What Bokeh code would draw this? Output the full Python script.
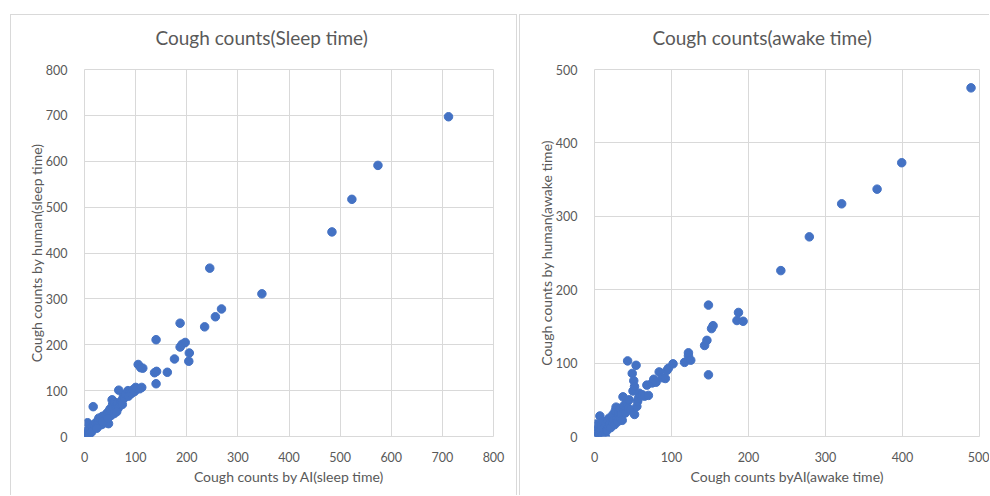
from bokeh.plotting import figure
from bokeh.layouts import row
from bokeh.models import ColumnDataSource, FixedTicker, Range1d, Title
from bokeh.embed import file_html
from bokeh.resources import INLINE

# ---- data ----
sleep_ai = [0, 1, 2, 3, 4, 5, 6, 0, 2, 7, 8, 10, 6, 12, 15, 17, 18, 20, 22, 25,
            27, 28, 30, 32, 34, 35, 38, 40, 42, 44, 45, 47, 48, 50, 52, 54, 55, 56, 58, 60,
            62, 64, 66, 67, 70, 72, 74, 76, 78, 80, 83, 85, 86, 88, 90, 92, 95, 98, 100, 103,
            105, 108, 110, 112, 114, 137, 140, 141, 140, 162, 176, 187, 187, 191, 197, 204, 205, 235, 245, 256,
            268, 347, 484, 523, 574, 712, 3, 9, 14, 24, 36, 46, 58, 63]
sleep_human = [0, 2, 0, 5, 1, 3, 8, 4, 10, 2, 12, 6, 30, 18, 20, 65, 25, 22, 30, 28,
               35, 40, 25, 38, 26, 44, 42, 30, 48, 36, 52, 28, 55, 60, 46, 80, 70, 64, 75, 58,
               66, 72, 62, 101, 74, 78, 70, 88, 84, 92, 95, 100, 88, 96, 98, 94, 102, 98, 107, 105,
               157, 104, 150, 107, 149, 139, 211, 142, 115, 140, 169, 195, 247, 201, 205, 164, 182, 239, 367, 261,
               278, 311, 446, 517, 591, 697, 12, 4, 10, 18, 32, 40, 50, 54]

awake_ai = [0, 1, 2, 3, 4, 5, 0, 2, 6, 7, 8, 9, 10, 11, 12, 14, 15, 16, 17, 18,
            19, 20, 21, 22, 23, 24, 25, 26, 27, 28, 29, 30, 31, 32, 33, 34, 35, 36, 37, 38,
            39, 40, 42, 43, 44, 45, 47, 49, 50, 51, 52, 52, 54, 55, 56, 57, 58, 60, 62, 65,
            68, 70, 75, 77, 80, 84, 88, 92, 94, 96, 102, 117, 122, 122, 125, 143, 146, 148, 148, 152,
            154, 185, 187, 193, 242, 279, 321, 367, 399, 489]
awake_human = [0, 3, 8, 1, 5, 12, 14, 17, 4, 28, 9, 15, 2, 20, 11, 0, 18, 8, 22, 14,
               25, 17, 12, 26, 20, 30, 22, 16, 35, 40, 24, 20, 32, 28, 38, 25, 30, 22, 54, 42,
               35, 32, 46, 103, 38, 50, 36, 86, 62, 76, 68, 30, 97, 41, 48, 52, 59, 56, 57, 55,
               70, 56, 73, 78, 74, 88, 80, 79, 90, 93, 99, 101, 110, 114, 104, 124, 131, 84, 179, 147,
               151, 158, 169, 157, 226, 272, 317, 337, 373, 475]

sleep_ticks = [0, 100, 200, 300, 400, 500, 600, 700, 800]
awake_ticks = [0, 100, 200, 300, 400, 500]

FONT = "Lato"
TXT = "#595959"
GRID = "#d9d9d9"
BLUE = "#4472C4"


def make(xs, ys, ticks, title, xlabel, ylabel, width, height, borders, title_offset,
         margin, styles):
    p = figure(width=width, height=height, output_backend="svg", toolbar_location=None,
               x_range=Range1d(ticks[0], ticks[-1]), y_range=Range1d(ticks[0], ticks[-1]),
               min_border_left=borders[0], min_border_right=borders[1],
               min_border_top=borders[2], min_border_bottom=borders[3],
               margin=margin)
    p.styles = styles
    p.title.text = title
    p.title.align = "left"
    p.title.offset = title_offset
    p.title.standoff = 10
    p.title.text_font = FONT
    p.title.text_font_size = "19px"
    p.title.text_font_style = "normal"
    p.title.text_color = TXT
    # blank spacer between the title and the plot area
    p.add_layout(Title(text=" ", text_font_size="1px", standoff=13), "above")
    src = ColumnDataSource(dict(x=xs, y=ys))
    p.scatter("x", "y", source=src, size=8.5, fill_color=BLUE, line_color=BLUE)
    for ax in (p.xaxis, p.yaxis):
        ax.ticker = FixedTicker(ticks=ticks)
        ax.axis_line_color = None
        ax.major_tick_line_color = None
        ax.minor_tick_line_color = None
        ax.major_label_text_font = FONT
        ax.major_label_text_font_size = "12.5px"
        ax.major_label_text_color = TXT
        ax.axis_label_text_font = FONT
        ax.axis_label_text_font_size = "14px"
        ax.axis_label_text_font_style = "normal"
        ax.axis_label_text_color = TXT
    p.xaxis.major_label_standoff = 9
    p.xaxis.axis_label_standoff = 3
    p.yaxis.major_label_standoff = 11
    p.yaxis.axis_label_standoff = -2
    p.xaxis.axis_label = xlabel
    p.yaxis.axis_label = ylabel
    p.grid.grid_line_color = GRID
    p.outline_line_color = GRID
    p.background_fill_color = "white"
    p.border_fill_color = "white"
    return p


p1 = make(sleep_ai, sleep_human, sleep_ticks, "Cough counts(Sleep time)",
          "Cough counts by AI(sleep time)", "Cough counts by human(sleep time)",
          507, 481, (73, 25, 54, 58), 71, (14, 0, 0, 10),
          {"border-top": "1px solid #d9d9d9", "border-left": "1px solid #d9d9d9",
           "border-right": "1px solid #d9d9d9"})
p2 = make(awake_ai, awake_human, awake_ticks, "Cough counts(awake time)",
          "Cough counts byAI(awake time)", "Cough counts by human(awake time)",
          470, 481, (74, 11, 54, 60), 58, (14, 0, 0, 2),
          {"border-top": "1px solid #d9d9d9", "border-left": "1px solid #d9d9d9"})

layout = row(p1, p2)
open("out.html", "w").write(file_html(layout, INLINE))
